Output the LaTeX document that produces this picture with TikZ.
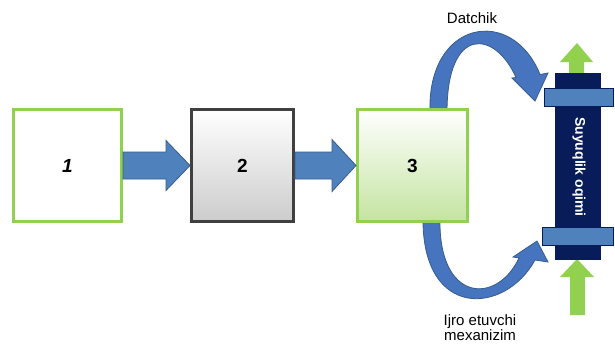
\documentclass[tikz,border=0pt]{standalone}
\usepackage{fontspec}
\setmainfont{Liberation Sans}
\usetikzlibrary{calc}
\definecolor{boxgreen}{RGB}{146,208,80}
\definecolor{boxgray}{RGB}{64,64,64}
\definecolor{arrblue}{RGB}{79,129,189}
\definecolor{arrdark}{RGB}{56,93,138}
\definecolor{ribblue}{RGB}{70,116,190}
\definecolor{pipenavy}{RGB}{8,28,90}
\definecolor{flangeblue}{RGB}{79,129,189}
\definecolor{flowgreen}{RGB}{146,208,80}
\definecolor{lightgreen}{RGB}{196,228,160}

\begin{document}
\begin{tikzpicture}[x=1pt, y=-1pt,
	blockbox/.style={rectangle, line width=3pt, minimum height=112pt, inner sep=0pt, font=\fontsize{19}{22}\selectfont\bfseries},
	blockarr/.style={fill=arrblue, draw=arrdark, line width=0.8pt, line join=miter},
	ribbon/.style={fill=ribblue, draw=arrdark, line width=0.8pt, line join=miter},
	flow/.style={fill=flowgreen, draw=none},
	flange/.style={fill=flangeblue, draw=pipenavy, line width=0.6pt},
	lbl/.style={font=\fontsize{15}{15}\selectfont, align=center, inner sep=0pt}]
	% Fon
	\fill[white] (0,0) rectangle (615,349);
	\useasboundingbox (0,0) rectangle (615,349);
	% Egri strelka: datchik (yuqori)
	\draw[ribbon] (430,112) .. controls (427,20) and (512,5) .. (540,74.5) -- (548,73) -- (535,101) -- (512,78) -- (516,77.5) .. controls (495,30) and (447,25) .. (447,112) -- cycle;
	% Egri strelka: ijro etuvchi mexanizim (pastki)
	\draw[ribbon] (423,218) .. controls (422,320) and (505,315) .. (535,260) -- (548,262) -- (537,241) -- (513,257) -- (519,258) .. controls (497,305) and (438,303) .. (440,218) -- cycle;
	% Suyuqlik oqimi yo'nalishi (yashil strelkalar)
	\fill[flow] (569,76) -- (569,62) -- (560,62) -- (577,43) -- (593,62) -- (584,62) -- (584,76) -- cycle;
	\fill[flow] (570,315) -- (570,277) -- (560,277) -- (577,259) -- (594,277) -- (585,277) -- (585,315) -- cycle;
	% Quvur va flanetslar
	\node[fill=pipenavy, minimum width=46pt, minimum height=187pt, inner sep=0pt] (pipe) at (578,166.5) {};
	\draw[flange] (544,88) rectangle (613,106);
	\draw[flange] (542,227) rectangle (613,245);
	\node[rotate=-90, text=white, font=\fontsize{14}{14}\selectfont\bfseries, inner sep=0pt] (flowlbl) at (579,167) {Suyuqlik oqimi};
	% Bloklar
	\node[blockbox, draw=boxgreen, fill=white, minimum width=108pt] (b1) at (67.5,165.5) {\itshape 1};
	\node[blockbox, draw=boxgray, top color=white, bottom color=gray!40, minimum width=102pt] (b2) at (242.5,165.5) {2};
	\node[blockbox, draw=boxgreen, top color=white, bottom color=lightgreen, minimum width=110pt] (b3) at (412.5,165.5) {3};
	% Bloklar orasidagi strelkalar
	\draw[blockarr] ($(b1.east)+(0,-13.5)$) -- ($(b2.west)+(-24,-13.5)$) -- ($(b2.west)+(-24,-25)$) -- (b2.west) -- ($(b2.west)+(-24,25)$) -- ($(b2.west)+(-24,13.5)$) -- ($(b1.east)+(0,13.5)$) -- cycle;
	\draw[blockarr] ($(b2.east)+(0,-13.5)$) -- ($(b3.west)+(-24,-13.5)$) -- ($(b3.west)+(-24,-26)$) -- (b3.west) -- ($(b3.west)+(-24,26)$) -- ($(b3.west)+(-24,13.5)$) -- ($(b2.east)+(0,13.5)$) -- cycle;
	% Yozuvlar
	\node[lbl] (datchik) at (472,18) {Datchik};
	\node[lbl] (ijro) at (480,328) {Ijro etuvchi\\mexanizim};
\end{tikzpicture}
\end{document}
